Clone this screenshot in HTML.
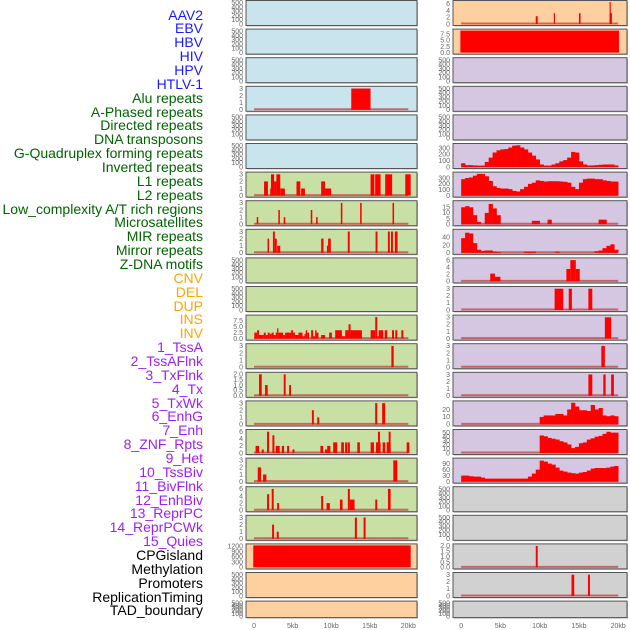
<!DOCTYPE html>
<html><head><meta charset="utf-8">
<style>
html,body{margin:0;padding:0;background:#fff;width:630px;height:630px;overflow:hidden}
#labels{position:absolute;left:0;top:0;width:203px;height:630px}
.lab{position:absolute;right:0;font:14px "Liberation Sans",sans-serif;white-space:nowrap;line-height:14px}
svg{position:absolute;left:0;top:0}
</style></head>
<body>
<div id="labels"></div>
<svg id="chart" width="630" height="630"></svg>
<script>
// ---- labels ----
const labelNames = ["AAV2","EBV","HBV","HIV","HPV","HTLV-1","Alu repeats","A-Phased repeats","Directed repeats","DNA transposons","G-Quadruplex forming repeats","Inverted repeats","L1 repeats","L2 repeats","Low_complexity A/T rich regions","Microsatellites","MIR repeats","Mirror repeats","Z-DNA motifs","CNV","DEL","DUP","INS","INV","1_TssA","2_TssAFlnk","3_TxFlnk","4_Tx","5_TxWk","6_EnhG","7_Enh","8_ZNF_Rpts","9_Het","10_TssBiv","11_BivFlnk","12_EnhBiv","13_ReprPC","14_ReprPCWk","15_Quies","CPGisland","Methylation","Promoters","ReplicationTiming","TAD_boundary"];
const labelGroups = [0,0,0,0,0,0,1,1,1,1,1,1,1,1,1,1,1,1,1,2,2,2,2,2,3,3,3,3,3,3,3,3,3,3,3,3,3,3,3,4,4,4,4,4];
const groupColors = ["#1a1aff","#006400","#ffa500","#a020f0","#000000"];

// ---- x axis ----
const xTickVals = [0,5,10,15,20];
const xTickLabels = ["0","5kb","10kb","15kb","20kb"];

// ---- tick sets ----
const ticks500 = [0,100,200,300,400,500];
const ticks3 = [0,1,2,3];
const ticks6 = [0,2,4,6];
const ticks75 = [0,2.5,5,7.5];
const ticks2 = [0,0.5,1,1.5,2];

// ---- left column data (bars: start kb, end kb, value) ----
const L3_start=[12.6], L3_end=[15.1], L3_val=[3];
const L6_start=[1.3,2.1,2.2,2.6,2.9,3.4,5.5,6.1,8.7,9.2,15.1,15.7,17.0,19.6];
const L6_end  =[1.8,2.2,2.6,2.9,3.4,4.0,6.0,6.6,9.2,10.0,15.6,16.4,17.9,20.3];
const L6_val  =[2,1,3,2,3,1,2,1,2,1,3,3,3,3];
const L7_start=[0.35,3.15,3.85,7.35,8.05,11.25,13.75,17.95];
const L7_end  =[0.55,3.35,4.05,7.55,8.25,11.45,13.95,18.15];
const L7_val  =[1,2,1,2,1,3,3,3];
const L8_start=[1.75,2.45,2.7,3.0,8.7,9.45,9.6,12.15,15.75,17.35,17.75,18.25];
const L8_end  =[1.95,2.7,2.95,3.4,9.0,9.6,9.95,12.4,16.0,17.6,18.0,18.6];
const L8_val  =[2,3,2,1,2,1,2,3,3,3,3,3];
const L11_start=[0.04,0.4,0.65,1.26,1.52,1.77,2.03,2.29,2.55,2.81,2.99,3.16,3.77,4.03,4.81,5.06,5.32,5.76,6.28,6.54,6.71,6.88,7.40,7.66,7.92,8.10,8.70,9.74,10.52,11.39,11.82,12.25,12.51,15.11,15.71,15.97,16.15,16.93,17.88,18.31,19.09];
const L11_end  =[0.4,0.65,1.26,1.52,1.77,2.03,2.29,2.55,2.81,2.99,3.16,3.77,4.03,4.81,5.06,5.32,5.76,6.28,6.54,6.71,6.88,7.14,7.66,7.92,8.10,8.35,9.22,10.09,11.39,11.82,12.25,12.51,13.98,15.71,15.97,16.15,16.75,17.27,18.14,18.57,19.35];
const L11_val  =[2.5,3.5,1.5,2.5,1.5,2.5,2,2.5,1.5,2.5,4.3,2.5,1.5,2.5,3.5,2.5,1.5,2.5,1,2,3.5,2.5,3.5,1,3.5,2.5,1.5,2.5,3.5,1,3.5,6,3.5,3.5,9,1,3.5,3.5,3.5,3.5,3.5];
const L12_start=[17.8], L12_end=[18.1], L12_val=[3];
const L13_start=[0.65,1.43,3.85,4.55], L13_end=[1.0,1.77,4.1,4.8], L13_val=[2,1,2,1];
const L14_start=[7.5,8.2,15.7,16.6], L14_end=[7.75,8.45,15.97,17.0], L14_val=[2,1,3,3];
const L15_start=[0.2,1.0,1.69,2.38,2.81,3.6,4.29,4.98,8.6,9.2,9.48,10.26,11.3,11.8,12.16,13.38,15.11,15.8,16.06,16.67,17.19,17.45,19.78];
const L15_end  =[0.65,1.26,1.95,2.64,3.33,3.9,4.55,5.24,8.96,9.48,9.9,10.78,11.65,12.08,12.42,13.72,15.54,16.4,16.32,17.0,17.7,17.7,20.13];
const L15_val  =[2,1,6,5,2,2,2,1,2,1,2,3,3,3,3,3,3,3,6,3,3,6,3];
const L16_start=[0.48,1.17,18.05], L16_end=[0.91,1.6,18.57], L16_val=[2,1,3];
const L17_start=[1.69,2.29,2.99,8.7,9.4,11.13,12.16,12.42,15.71,17.36];
const L17_end  =[1.95,2.55,3.25,8.96,9.83,11.47,12.42,13.03,15.97,17.7];
const L17_val  =[4.5,6,2,4,2,3,6,3,3,6];
const L18_start=[2.34,2.94,13.07,14.2], L18_end=[2.6,3.2,13.33,14.46], L18_val=[2,1,3,3];
const L19_start=[-0.1], L19_end=[20.3], L19_val=[1260];

// ---- right column data ----
const R0_start=[9.5,11.8,15.0,18.9,18.9], R0_end=[9.75,11.95,15.2,19.2,19.05], R0_val=[2.3,3.2,3.2,3.2,6.5];
const R1_start=[-0.1], R1_end=[20.1], R1_val=[9];
// profiles: 0.5kb bins from 0 to 20kb
const R5_bins=[60,30,30,25,20,20,80,150,230,265,280,285,310,340,345,310,280,230,180,120,40,20,20,40,60,90,110,150,240,230,90,40,25,25,30,35,40,40,40,25];
const R6_bins=[280,300,310,340,370,370,330,250,160,130,120,120,110,80,70,110,150,200,220,260,250,240,245,245,245,240,235,220,150,110,220,280,290,290,280,280,260,250,240,240];
const R7_bins=[15,16,15,8,2,0,10,18,14,8,0,0,0,0,0,0,0,0,3,3,0,0,4,0,0,0,0,0,0,0,0,0,0,0,0,4,4,0,0,0];
const R8_bins=[38,52,50,25,8,5,6,6,3,2,0,0,0,0,0,0,3,3,3,0,0,0,0,0,3,0,0,0,0,0,0,0,0,0,4,6,12,18,22,8];
const R9_start=[3.7,4.3,13.4,13.9,14.6], R9_end=[4.3,5.0,13.9,14.6,15.1], R9_val=[2.2,1.3,3.5,6,3.5];
const R10_start=[11.9,13.7,16.2], R10_end=[13.0,14.1,16.7], R10_val=[3,3,3];
const R11_start=[18.3], R11_end=[19.1], R11_val=[3];
const R12_start=[17.85], R12_end=[18.3], R12_val=[3];
const R13_start=[16.2,18.1,19.1], R13_end=[16.7,18.4,19.45], R13_val=[3,3,3];
const R14_bins=[0,0,0,0,0,0,0,0,0,0,0,0,0,0,0,0,0,0,0,0,10,12,12,12,14,14,12,20,29,24,19,19,18,26,20,22,12,11,12,11];
const R15_bins=[0,0,0,0,0,0,0,0,0,0,0,0,0,0,0,0,0,0,0,0,43,41,37,35,33,29,26,21,12,15,24,26,33,36,40,42,47,52,50,50];
const R16_bins=[30,30,27,25,25,20,15,15,15,15,15,15,15,15,15,15,15,25,40,60,105,100,90,85,70,55,50,45,42,40,45,48,55,65,68,68,68,70,75,78];
const R19_start=[9.5], R19_end=[9.75], R19_val=[2];
const R20_start=[14.05,16.15], R20_end=[14.4,16.4], R20_val=[3,3];

const BG = {blue:"#c9e4ec",green:"#c9e0a5",orange:"#fecf9f",purple:"#d5c6e2",grey:"#d1d1d1"};

function E(){return {ticks:ticks500,ymax:520};}
const leftPanels = [
 {bg:"blue",...E()},{bg:"blue",...E()},{bg:"blue",...E()},
 {bg:"blue",ticks:ticks3,ymax:3.1,s:L3_start,e:L3_end,v:L3_val},
 {bg:"blue",...E()},{bg:"blue",...E()},
 {bg:"green",ticks:ticks3,ymax:3.1,s:L6_start,e:L6_end,v:L6_val},
 {bg:"green",ticks:ticks3,ymax:3.1,s:L7_start,e:L7_end,v:L7_val},
 {bg:"green",ticks:ticks3,ymax:3.1,s:L8_start,e:L8_end,v:L8_val},
 {bg:"green",...E()},{bg:"green",...E()},
 {bg:"green",ticks:ticks75,tl:["0.0","2.5","5.0","7.5"],ymax:9.2,s:L11_start,e:L11_end,v:L11_val},
 {bg:"green",ticks:ticks3,ymax:3.1,s:L12_start,e:L12_end,v:L12_val},
 {bg:"green",ticks:ticks2,tl:["0.0","0.5","1.0","1.5","2.0"],ymax:2.05,s:L13_start,e:L13_end,v:L13_val},
 {bg:"green",ticks:ticks3,ymax:3.1,s:L14_start,e:L14_end,v:L14_val},
 {bg:"green",ticks:ticks6,ymax:6.2,s:L15_start,e:L15_end,v:L15_val},
 {bg:"green",ticks:ticks3,ymax:3.1,s:L16_start,e:L16_end,v:L16_val},
 {bg:"green",ticks:ticks6,ymax:6.2,s:L17_start,e:L17_end,v:L17_val},
 {bg:"green",ticks:ticks3,ymax:3.1,s:L18_start,e:L18_end,v:L18_val},
 {bg:"orange",ticks:[0,300,600,900,1200],ymax:1260,s:L19_start,e:L19_end,v:L19_val,nobase:true},
 {bg:"orange",...E()},{bg:"orange",...E()}
];
const rightPanels = [
 {bg:"orange",ticks:ticks6,ymax:6.5,s:R0_start,e:R0_end,v:R0_val},
 {bg:"orange",ticks:ticks75,tl:["0.0","2.5","5.0","7.5"],ymax:9,s:R1_start,e:R1_end,v:R1_val,nobase:true},
 {bg:"purple",...E()},{bg:"purple",...E()},{bg:"purple",...E()},
 {bg:"purple",ticks:[0,100,200,300],ymax:350,bins:R5_bins},
 {bg:"purple",ticks:[0,100,200,300],ymax:375,bins:R6_bins},
 {bg:"purple",ticks:[0,5,10,15],ymax:19.5,bins:R7_bins},
 {bg:"purple",ticks:[0,20,40],ymax:57,bins:R8_bins},
 {bg:"purple",ticks:ticks6,ymax:6.2,s:R9_start,e:R9_end,v:R9_val},
 {bg:"purple",ticks:ticks3,ymax:3.1,s:R10_start,e:R10_end,v:R10_val},
 {bg:"purple",ticks:ticks3,ymax:3.1,s:R11_start,e:R11_end,v:R11_val},
 {bg:"purple",ticks:ticks3,ymax:3.1,s:R12_start,e:R12_end,v:R12_val},
 {bg:"purple",ticks:ticks3,ymax:3.1,s:R13_start,e:R13_end,v:R13_val},
 {bg:"purple",ticks:[0,10,20],ymax:29.5,bins:R14_bins},
 {bg:"purple",ticks:[0,10,20,30,40,50],ymax:54,bins:R15_bins},
 {bg:"purple",ticks:[0,30,60,90],ymax:110,bins:R16_bins},
 {bg:"grey",...E()},{bg:"grey",...E()},
 {bg:"grey",ticks:ticks2,tl:["0.0","0.5","1.0","1.5","2.0"],ymax:2.05,s:R19_start,e:R19_end,v:R19_val},
 {bg:"grey",ticks:ticks3,ymax:3.1,s:R20_start,e:R20_end,v:R20_val},
 {bg:"grey",...E()}
];

// ---- labels render ----
const labDiv=document.getElementById('labels');
labelNames.forEach((t,i)=>{
  const d=document.createElement('div');
  d.className='lab';
  d.textContent=t;
  d.style.top=(15+i*13.86-7.5)+'px';
  d.style.color=groupColors[labelGroups[i]];
  
  
  labDiv.appendChild(d);
});

// ---- chart render ----
const NS="http://www.w3.org/2000/svg";
const svg=document.getElementById('chart');
function mk(tag,attrs,parent){const el=document.createElementNS(NS,tag);for(const k in attrs)el.setAttribute(k,attrs[k]);(parent||svg).appendChild(el);return el;}
const cols=[{x0:246,w:171,tickX:243},{x0:453,w:174,tickX:450}];
const DMIN=-1.04, DSPAN=22.16;
function xScale(c,kb){return cols[c].x0+(kb-DMIN)/DSPAN*cols[c].w;}
function rowTop(i){return i*28.6+0.5;}
function rowH(i){return i===21?16.5:25;}

function drawPanel(c,i,p){
  const g=mk('g',{});
  
  
  const x0=cols[c].x0,w=cols[c].w,top=rowTop(i),h=rowH(i);
  const yb=top+h-1.5, yt=top+1.5;
  const yS=v=>yb-(v/p.ymax)*(yb-yt);
  mk('rect',{x:x0+1,y:top+1,width:w,height:h,fill:"#bbb"},g);
  const bg=mk('rect',{x:x0,y:top,width:w,height:h,fill:BG[p.bg],stroke:"#555","stroke-width":1},g);
  
  
  // y ticks
  p.ticks.forEach((t,k)=>{
    const tx=mk('text',{x:cols[c].tickX,y:yS(t)+2.3,"text-anchor":"end","font-size":"7","font-family":"Liberation Sans, sans-serif",fill:"#666"},g);
    tx.textContent=p.tl?p.tl[k]:String(t);
    
    
  });
  const hasData=p.s||p.bins;
  if(hasData&&!p.nobase){
    const bl=mk('line',{x1:xScale(c,0),x2:xScale(c,20),y1:yb-0.5,y2:yb-0.5,stroke:"#c24040","stroke-opacity":0.75,"stroke-width":2},g);
    
    
  }
  if(p.s){
    p.s.forEach((s,k)=>{
      const xa=xScale(c,s),xb=xScale(c,p.e[k]);
      const y=yS(p.v[k]);
      const r=mk('rect',{x:xa,y:Math.max(y,top+0.5),width:Math.max(xb-xa,1.2),height:yb-Math.max(y,top+0.5),fill:"#ff0000"},g);
      
      
    });
  }
  if(p.bins){
    p.bins.forEach((v,k)=>{
      if(v<=0)return;
      const xa=xScale(c,k*0.5),xb=xScale(c,k*0.5+0.5);
      const y=Math.max(yS(v),top+0.5);
      const r=mk('rect',{x:xa,y:y,width:xb-xa+0.3,height:yb-y,fill:"#ff0000"},g);
      
      
    });
  }
}
leftPanels.forEach((p,i)=>drawPanel(0,i,p));
rightPanels.forEach((p,i)=>drawPanel(1,i,p));

// x axis labels
[0,1].forEach(c=>{
  xTickVals.forEach((v,k)=>{
    const t=mk('text',{x:xScale(c,v),y:628,"text-anchor":"middle","font-size":"7","font-family":"Liberation Sans, sans-serif",fill:"#666"});
    t.textContent=xTickLabels[k];
    
    
  });
});
</script>
</body></html>
